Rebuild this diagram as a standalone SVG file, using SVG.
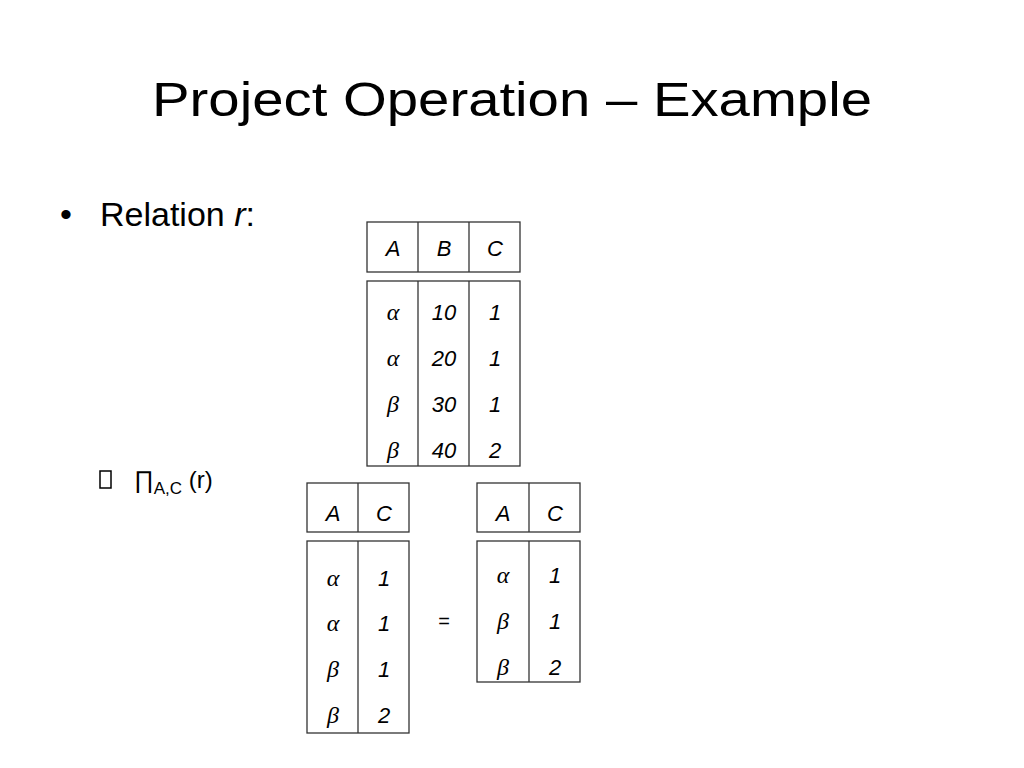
<svg xmlns="http://www.w3.org/2000/svg" width="1024" height="768" viewBox="0 0 1024 768">
<style>
.t{font-family:"Liberation Sans",Arial,sans-serif;fill:#000}
.c{font-family:"Liberation Sans",Arial,sans-serif;font-style:italic;font-size:22px;text-anchor:middle;fill:#000}
.g{font-family:"Liberation Serif","DejaVu Serif",serif;font-style:italic;font-size:24px;text-anchor:middle;fill:#000}
.b{fill:#fff;stroke:#333;stroke-width:1.3}
.l{stroke:#333;stroke-width:1.3}
</style>
<rect width="1024" height="768" fill="#fff"/>
<text class="t" x="512" y="116" font-size="48" text-anchor="middle" textLength="720" lengthAdjust="spacingAndGlyphs">Project Operation – Example</text>
<text class="t" x="60" y="226" font-size="34">•</text>
<text class="t" x="100" y="226" font-size="34">Relation <tspan font-style="italic">r</tspan>:</text>
<rect x="100" y="471" width="11" height="17" fill="none" stroke="#000" stroke-width="1.5"/>
<text class="t" x="134" y="488" font-size="24">∏<tspan font-size="17" dy="6">A,C</tspan><tspan dy="-6"> (r)</tspan></text>

<g id="relation-r">
<rect class="b" x="367" y="222" width="153" height="50"/>
<line class="l" x1="418" y1="222" x2="418" y2="272"/><line class="l" x1="469" y1="222" x2="469" y2="272"/>
<text class="c" x="393" y="256">A</text><text class="c" x="444" y="256">B</text><text class="c" x="495" y="256">C</text>
<rect class="b" x="367" y="281" width="153" height="185"/>
<line class="l" x1="418" y1="281" x2="418" y2="466"/><line class="l" x1="469" y1="281" x2="469" y2="466"/>
<text class="g" x="393" y="320">α</text><text class="c" x="444" y="320">10</text><text class="c" x="495" y="320">1</text>
<text class="g" x="393" y="366">α</text><text class="c" x="444" y="366">20</text><text class="c" x="495" y="366">1</text>
<text class="g" x="393" y="412">β</text><text class="c" x="444" y="412">30</text><text class="c" x="495" y="412">1</text>
<text class="g" x="393" y="458">β</text><text class="c" x="444" y="458">40</text><text class="c" x="495" y="458">2</text>
</g>

<g id="projection">
<rect class="b" x="307" y="483" width="102" height="49"/>
<line class="l" x1="358" y1="483" x2="358" y2="532"/>
<text class="c" x="333" y="521">A</text><text class="c" x="384" y="521">C</text>
<rect class="b" x="307" y="541" width="102" height="192"/>
<line class="l" x1="358" y1="541" x2="358" y2="733"/>
<text class="g" x="333" y="586">α</text><text class="c" x="384" y="586">1</text>
<text class="g" x="333" y="631">α</text><text class="c" x="384" y="631">1</text>
<text class="g" x="333" y="677">β</text><text class="c" x="384" y="677">1</text>
<text class="g" x="333" y="723">β</text><text class="c" x="384" y="723">2</text>
</g>

<text class="t" x="444" y="628" font-size="20" text-anchor="middle">=</text>

<g id="result">
<rect class="b" x="477" y="483" width="103" height="49"/>
<line class="l" x1="529" y1="483" x2="529" y2="532"/>
<text class="c" x="503" y="521">A</text><text class="c" x="555" y="521">C</text>
<rect class="b" x="477" y="541" width="103" height="141"/>
<line class="l" x1="529" y1="541" x2="529" y2="682"/>
<text class="g" x="503" y="583">α</text><text class="c" x="555" y="583">1</text>
<text class="g" x="503" y="629">β</text><text class="c" x="555" y="629">1</text>
<text class="g" x="503" y="675">β</text><text class="c" x="555" y="675">2</text>
</g>
</svg>
